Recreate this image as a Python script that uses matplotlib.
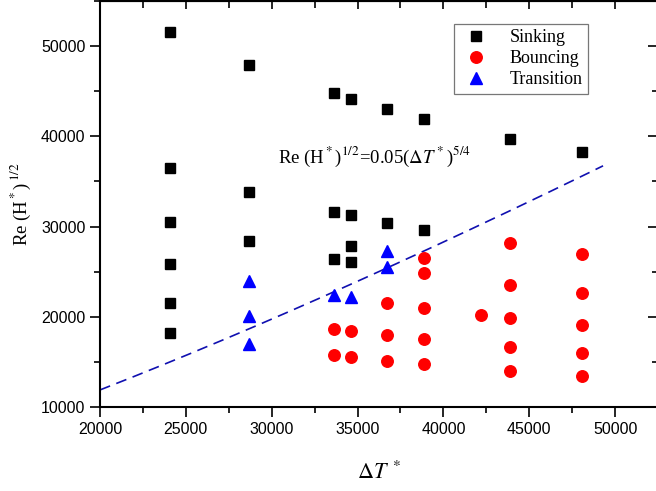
import numpy as np
import matplotlib
matplotlib.use("Agg")
import matplotlib.pyplot as plt
from matplotlib.ticker import MultipleLocator

plt.rcParams['mathtext.fontset'] = 'stix'

# Sinking (black squares)
sink_x = [24100]*6 + [28700]*3 + [33600]*3 + [34600]*4 + [36700]*2 + [38900]*2 + [43900] + [48100]
sink_y = [51600, 36500, 30500, 25800, 21550, 18200,
          47950, 33850, 28400,
          44750, 31600, 26450,
          44150, 31250, 27850, 26100,
          43000, 30400,
          41950, 29600,
          39750,
          38250]

# Bouncing (red circles)
bounce_x = [33600]*2 + [34600]*2 + [36700]*3 + [38900]*5 + [42200] + [43900]*5 + [48100]*5
bounce_y = [18650, 15750,
            18400, 15550,
            21500, 17950, 15150,
            26500, 24800, 20950, 17500, 14750,
            20200,
            28150, 23500, 19850, 16600, 14000,
            27000, 22600, 19100, 15950, 13450]

# Transition (blue triangles)
trans_x = [28700]*3 + [33600, 34600] + [36700]*2
trans_y = [24000, 20100, 17000, 22400, 22150, 27300, 25500]

# Fit line: Re (H*)^1/2 = 0.05 (dT*)^(5/4)
fit_coef = 0.05
fit_exp = 5 / 4
fit_range = (20000, 49300)

x_ticks = [20000, 25000, 30000, 35000, 40000, 45000, 50000]
y_ticks = [10000, 20000, 30000, 40000, 50000]

fig = plt.figure(figsize=(6.56, 4.91), dpi=100)
ax = fig.add_axes([100/656, 84/491, 558/656, 406/491])

fx = np.linspace(fit_range[0], fit_range[1], 200)
ax.plot(fx, fit_coef * fx**fit_exp, linestyle=(0, (6.5, 4)), color='#1010b0', lw=1.2, zorder=1)

ax.plot(sink_x, sink_y, 's', color='black', ms=7.5, ls='none', label='Sinking', zorder=3)
ax.plot(bounce_x, bounce_y, 'o', color='#ff0000', ms=8.3, ls='none', label='Bouncing', zorder=3)
ax.plot(trans_x, trans_y, '^', color='#0000ff', ms=8.3, ls='none', label='Transition', zorder=3)

ax.set_xlim(20000, 52500)
ax.set_ylim(10000, 55000)
ax.set_xticks(x_ticks)
ax.set_yticks(y_ticks)
ax.xaxis.set_minor_locator(MultipleLocator(2500))
ax.yaxis.set_minor_locator(MultipleLocator(5000))
ax.tick_params(axis='both', which='major', direction='out', length=7, width=1.2,
               labelsize=11.5, top=False, right=False)
ax.tick_params(axis='both', which='minor', direction='out', length=4, width=1.2,
               top=False, right=False)
for lab in ax.get_xticklabels() + ax.get_yticklabels():
    lab.set_fontfamily('Liberation Sans')

# inward ticks on top / right
sec_x = ax.secondary_xaxis('top')
sec_x.set_xticks(x_ticks)
sec_x.xaxis.set_minor_locator(MultipleLocator(2500))
sec_x.tick_params(which='both', direction='in', length=6, width=1.2, labeltop=False)
sec_x.tick_params(which='minor', length=5)
sec_y = ax.secondary_yaxis('right')
sec_y.set_yticks(y_ticks)
sec_y.yaxis.set_minor_locator(MultipleLocator(5000))
sec_y.tick_params(which='both', direction='in', length=7, width=1.2, labelright=False)
sec_y.tick_params(which='minor', length=4)

for s in ax.spines.values():
    s.set_linewidth(1.5)

ax.set_xlabel(r'$\mathit{\Delta T}^{\,*}$', fontsize=16, labelpad=17)
ax.set_ylabel(r'Re (H$^*$)$^{\,1/2}$', fontsize=13.5, family='Liberation Serif', labelpad=6)

ax.text(30350, 37700, r'Re (H$^*$)$^{1/2}$=0.05($\mathit{\Delta T}^*$)$^{5/4}$',
        fontsize=13.5, family='Liberation Serif', va='center', ha='left')

leg = ax.legend(loc='upper left', bbox_to_anchor=((454-100)/558, (407-24)/406),
                prop={'family': 'Liberation Serif', 'size': 13},
                frameon=True, fancybox=False, edgecolor='#555555',
                borderpad=0.3, labelspacing=0.22, handletextpad=1.0, handlelength=1.8,
                borderaxespad=0)
leg.get_frame().set_linewidth(0.9)

fig.savefig('out.png', dpi=100)
